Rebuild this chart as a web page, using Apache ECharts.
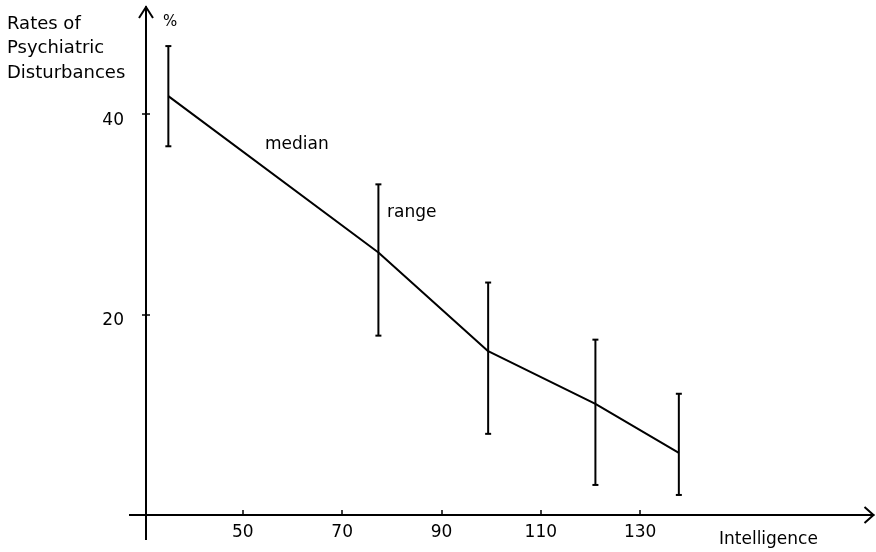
<!DOCTYPE html>
<html>
<head>
<meta charset="utf-8">
<title>Rates of Psychiatric Disturbances</title>
<script src="https://cdn.jsdelivr.net/npm/echarts@6/dist/echarts.min.js"></script>
<style>
	html, body { margin: 0; padding: 0; background: #fff; }
	#main { width: 876px; height: 552px; }
</style>
</head>
<body>
<div id="main"></div>
<script>
	// data
	var iq = [35, 77.3, 99.4, 121, 137.8];
	var median = [41.8, 26.2, 16.35, 11.1, 6.2];
	var rangeHigh = [46.8, 33.0, 23.2, 17.5, 12.1];
	var rangeLow = [36.8, 17.9, 8.1, 3.0, 2.0];
	var xTicks = [50, 70, 90, 110, 130];
	var yTicks = [20, 40];

	var xMin = 30.5, xMax = 177, yMin = 0, yMax = 50.7;
	var ink = '#000';
	var font = 'DejaVu Sans';

	var chart = echarts.init(document.getElementById('main'));

	var lineData = [], barData = [];
	for (var i = 0; i < iq.length; i++) {
		lineData.push([iq[i], median[i]]);
		barData.push([iq[i], rangeLow[i], rangeHigh[i]]);
	}

	var option = {
		animation: false,
		backgroundColor: '#fff',
		grid: { left: 146, right: 2.5, top: 7, bottom: 37 },
		xAxis: {
			type: 'value', min: xMin, max: xMax,
			splitLine: { show: false },
			axisLine: { lineStyle: { color: ink, width: 2 } },
			axisTick: { inside: true, length: 5, lineStyle: { color: ink, width: 1.5 }, customValues: xTicks },
			axisLabel: { customValues: xTicks, color: ink, fontFamily: font, fontSize: 17, margin: 9 }
		},
		yAxis: [{
			type: 'value', min: yMin, max: yMax,
			splitLine: { show: false },
			axisLine: { show: true, lineStyle: { color: ink, width: 2 } },
			axisTick: { length: 4, lineStyle: { color: ink, width: 1.5 }, customValues: yTicks },
			axisLabel: { customValues: yTicks, color: ink, fontFamily: font, fontSize: 17, margin: 22,
				verticalAlign: 'top', lineHeight: 12 }
		}, {
			type: 'value', min: yMin, max: yMax, position: 'left',
			splitLine: { show: false },
			axisLine: { show: false },
			axisTick: { inside: true, length: 4, lineStyle: { color: ink, width: 1.5 }, customValues: yTicks },
			axisLabel: { show: false }
		}],
		series: [{
			type: 'line',
			data: lineData,
			symbol: 'none',
			lineStyle: { color: ink, width: 2 },
			z: 3
		}, {
			type: 'custom',
			data: barData,
			encode: { x: 0, y: [1, 2] },
			renderItem: function (params, api) {
				var lo = api.coord([api.value(0), api.value(1)]);
				var hi = api.coord([api.value(0), api.value(2)]);
				var cap = 3;
				var st = { stroke: ink, lineWidth: 2 };
				return {
					type: 'group',
					children: [
						{ type: 'line', shape: { x1: lo[0], y1: lo[1], x2: hi[0], y2: hi[1] }, style: st },
						{ type: 'line', shape: { x1: lo[0] - cap, y1: lo[1], x2: lo[0] + cap, y2: lo[1] }, style: st },
						{ type: 'line', shape: { x1: hi[0] - cap, y1: hi[1], x2: hi[0] + cap, y2: hi[1] }, style: st }
					]
				};
			},
			z: 4
		}]
	};

	chart.setOption(option);

	// axis extensions, arrow heads and the hand-lettered notes
	var o = chart.convertToPixel({ gridIndex: 0 }, [xMin, yMin]);
	var xe = chart.convertToPixel({ gridIndex: 0 }, [xMax, yMin]);
	var ye = chart.convertToPixel({ gridIndex: 0 }, [xMin, yMax]);
	var axStyle = { stroke: ink, lineWidth: 2, fill: null };
	var txt = function (x, y, s, size) {
		return { type: 'text', left: x, top: y, style: { text: s, font: (size || 17) + 'px "' + font + '"', fill: ink } };
	};

	chart.setOption({
		graphic: [
			{ type: 'line', shape: { x1: o[0], y1: o[1], x2: o[0], y2: o[1] + 25 }, style: axStyle },
			{ type: 'line', shape: { x1: o[0] - 17, y1: o[1], x2: o[0], y2: o[1] }, style: axStyle },
			{ type: 'polyline', shape: { points: [[ye[0] - 7, ye[1] + 11], [ye[0], ye[1]], [ye[0] + 7, ye[1] + 11]] }, style: axStyle },
			{ type: 'polyline', shape: { points: [[xe[0] - 9, xe[1] - 8], [xe[0], xe[1]], [xe[0] - 9, xe[1] + 8]] }, style: axStyle },
			{ type: 'text', left: 7, top: 12, style: { text: 'Rates of\nPsychiatric\nDisturbances', font: '18px "' + font + '"', fill: ink, lineHeight: 24.5 } },
			txt(163, 15, '%', 15),
			txt(265, 136, 'median'),
			txt(387, 204, 'range'),
			txt(719, 531, 'Intelligence')
		]
	});
</script>
</body>
</html>
